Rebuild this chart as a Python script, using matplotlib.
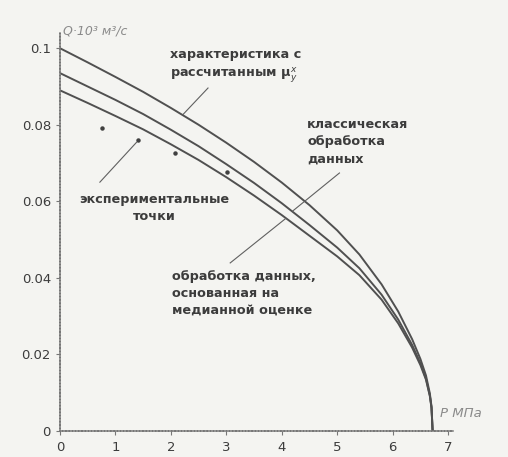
import numpy as np
import matplotlib
matplotlib.use("Agg")
import matplotlib.pyplot as plt

# pressure P, MPa, and flow rate Q (x 10^3 m^3/s)
P = [0, 0.5, 1.0, 1.5, 2.0, 2.5, 3.0, 3.5, 4.0, 4.5, 5.0, 5.4, 5.8, 6.1,
     6.35, 6.5, 6.6, 6.67, 6.70, 6.72]
Q_calc = [0.1000, 0.0963, 0.0925, 0.0886, 0.0844, 0.0800, 0.0753, 0.0703,
          0.0649, 0.0590, 0.0524, 0.0461, 0.0383, 0.0312, 0.0240, 0.0188,
          0.0145, 0.0098, 0.0064, 0.0]
Q_classic = [0.0935, 0.0900, 0.0865, 0.0828, 0.0787, 0.0744, 0.0697, 0.0648,
             0.0595, 0.0538, 0.0479, 0.0425, 0.0356, 0.0291, 0.0225, 0.0177,
             0.0137, 0.0093, 0.0061, 0.0]
Q_median = [0.0890, 0.0857, 0.0823, 0.0788, 0.0749, 0.0708, 0.0663, 0.0615,
            0.0564, 0.0510, 0.0456, 0.0407, 0.0343, 0.0281, 0.0218, 0.0172,
            0.0134, 0.0091, 0.0060, 0.0]

# experimental points
P_exp = [0.76, 1.41, 2.08, 3.02]
Q_exp = [0.0791, 0.0760, 0.0726, 0.0676]

x_ticks = [0, 1, 2, 3, 4, 5, 6, 7]
y_ticks = [0, 0.02, 0.04, 0.06, 0.08, 0.1]
y_labels = ["0", "0.02", "0.04", "0.06", "0.08", "0.1"]

bg = "#f4f4f1"
line_c = "#505050"
text_c = "#3c3c3c"

fig = plt.figure(figsize=(5.08, 4.57), dpi=100, facecolor=bg)
ax = fig.add_axes([0.118, 0.057, 0.774, 0.871], facecolor=bg)

for q in (Q_calc, Q_classic, Q_median):
    ax.plot(P, q, color=line_c, lw=1.4, solid_joinstyle="round")
ax.plot(P_exp, Q_exp, ls="none", marker="o", ms=2.2, color="#404040")

ax.set_xlim(0, 7.09)
ax.set_ylim(0, 0.104)
ax.set_xticks(x_ticks)
ax.set_yticks(y_ticks)
ax.set_yticklabels(y_labels)
ax.tick_params(colors="#777777", labelcolor=text_c, labelsize=9.5, length=3, width=0.8)
ax.tick_params(axis="x", pad=4)
for side in ("top", "right"):
    ax.spines[side].set_visible(False)
for side in ("left", "bottom"):
    ax.spines[side].set_color("#777777")
    ax.spines[side].set_linewidth(1.1)
    ax.spines[side].set_linestyle((0, (1.5, 0.6)))

# axis captions
ax.text(0.05, 0.1045, "Q·10³ м³/с", fontsize=9, style="italic", color="#8a8a8a",
        ha="left", va="center")
ax.text(6.86, 0.0046, "P МПа", fontsize=9.5, style="italic", color="#8a8a8a",
        ha="left", va="center")

# curve labels with leader lines
lead = dict(color="#606060", lw=0.8)
txt = dict(fontsize=9.2, fontweight="bold", color=text_c, linespacing=1.4)

ax.text(1.99, 0.0953, "характеристика с\nрассчитанным μ$_y^x$", ha="left", va="center", **txt)
ax.plot([2.67, 2.22], [0.0896, 0.0827], **lead)

ax.text(4.46, 0.0755, "классическая\nобработка\nданных", ha="left", va="center", **txt)
ax.plot([5.04, 4.2], [0.0674, 0.0575], **lead)

ax.text(1.70, 0.0583, "экспериментальные\nточки", ha="center", va="center",
        multialignment="center", **txt)
ax.plot([0.72, 1.38], [0.0650, 0.0754], **lead)

ax.text(2.02, 0.0360, "обработка данных,\nоснованная на\nмедианной оценке",
        ha="left", va="center", **txt)
ax.plot([3.07, 4.07], [0.0439, 0.0555], **lead)

fig.savefig("out.png", dpi=100, facecolor=bg)
